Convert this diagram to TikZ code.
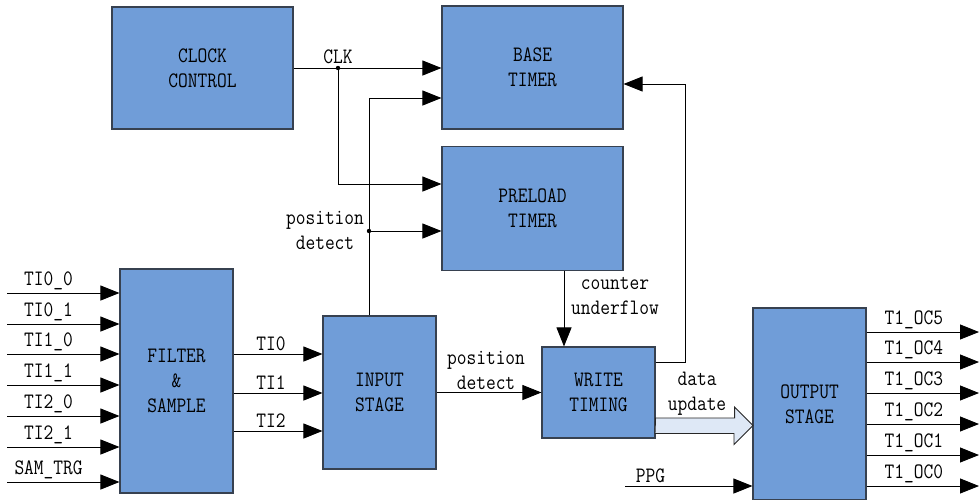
\documentclass[tikz,border=0pt]{standalone}
\usepackage{fontspec}
\setmonofont{Latin Modern Mono}[FakeStretch=0.86]
\usetikzlibrary{arrows.meta,positioning}
\definecolor{blkfill}{RGB}{112,157,216}
\definecolor{blkedge}{RGB}{55,65,80}
\definecolor{fatfill}{RGB}{222,232,246}

\begin{document}
\begin{tikzpicture}[x=1pt, y=-1pt, >={Triangle[length=19pt,width=15pt]},
  every node/.style={font=\fontsize{22}{25}\selectfont\ttfamily},
  blk/.style={draw=blkedge, fill=blkfill, line width=1.1pt, align=center, inner sep=0pt},
  sig/.style={draw=black, line width=0.9pt, ->},
  lbl/.style={inner sep=3pt, align=center}]
\useasboundingbox (0,0) rectangle (979,499);
\node[blk, minimum width=181pt, minimum height=122pt] (clock) at (202.5,68) {CLOCK\\CONTROL};
\node[blk, minimum width=181pt, minimum height=123pt] (base) at (532.5,67.5) {BASE\\TIMER};
\node[blk, minimum width=181pt, minimum height=124pt, below=16pt of base] (preload) {PRELOAD\\TIMER};
\node[blk, minimum width=113pt, minimum height=224pt] (filter) at (176.5,381) {FILTER\\\&\\SAMPLE};
\node[blk, minimum width=113pt, minimum height=153pt] (input) at (379.5,392.5) {INPUT\\STAGE};
\node[blk, minimum width=113pt, minimum height=91pt] (write) at (598.5,392.5) {WRITE\\TIMING};
\node[blk, minimum width=113pt, minimum height=192pt] (output) at (809.5,404) {OUTPUT\\STAGE};
% inputs of the filter
\foreach \txt/\y in {TI0\_0/293, TI0\_1/324, TI1\_0/354, TI1\_1/385, TI2\_0/416, TI2\_1/447, SAM\_TRG/482} {
  \coordinate (pin) at (7,\y);
  \draw[sig] (pin) -- (pin -| filter.west) node[lbl, pos=0.37, above] {\txt};
}
\foreach \k/\y in {0/354, 1/393, 2/431} {
  \coordinate (ti) at (233,\y);
  \draw[sig] (filter.east |- ti) -- (ti -| input.west) node[lbl, pos=0.42, above] {TI\k};
}
% outputs
\foreach \k/\y in {5/332, 4/362, 3/393, 2/424, 1/455, 0/486} {
  \coordinate (pout) at (979,\y);
  \draw[sig] (output.east |- pout) -- (pout) node[lbl, pos=0.42, above] {T1\_OC\k};
}
% clock
\coordinate (clkdot) at (338,68);
\coordinate (clkpre) at (338,184);
\draw[sig] (clock.east |- clkdot) -- (clkdot -| base.west);
\draw[sig] (clkdot) -- (clkpre) -- (clkpre -| preload.west);
\fill (clkdot) circle (2.2pt);
\node[lbl, above=1pt of clkdot] (clk) {CLK};
% position detect to the timers
\coordinate (pdtop) at (369,98);
\coordinate (pddot) at (369,231);
\draw[sig] (input.north -| pdtop) -- (pdtop) -- (pdtop -| base.west);
\draw[sig] (pddot) -- (pddot -| preload.west);
\fill (pddot) circle (2.2pt);
\node[lbl] (pd1) at (325,230) {position\\detect};
% counter underflow
\coordinate (cux) at (564,300);
\draw[sig] (preload.south -| cux) -- (write.north -| cux);
\node[lbl] (cu) at (615,296) {counter\\underflow};
% position detect to write timing
\draw[sig] (input.east |- write.west) -- (write.west);
\node[lbl] (pd2) at (486,370) {position\\detect};
% feedback to base timer
\coordinate (fbl) at (685,362);
\coordinate (fbt) at (685,84);
\draw[sig] (write.east |- fbl) -- (fbl) -- (fbt) -- (fbt -| base.east);
% data update
\coordinate (dut) at (753,425.5);
\draw[draw=black!85, line width=0.9pt, fill=fatfill] (write.east |- dut) ++(0,-7.5) -- ++(79,0) -- ++(0,-11) -- (dut)
  -- ++(-19,19) -- ++(0,-11) -- ++(-79,0) -- cycle;
\node[lbl] (du) at (697,394) {data\\update};
% ppg
\coordinate (ppg) at (625,486);
\draw[sig] (ppg) -- (ppg -| output.west) node[lbl, pos=0.2, above] {PPG};
\end{tikzpicture}
\end{document}
